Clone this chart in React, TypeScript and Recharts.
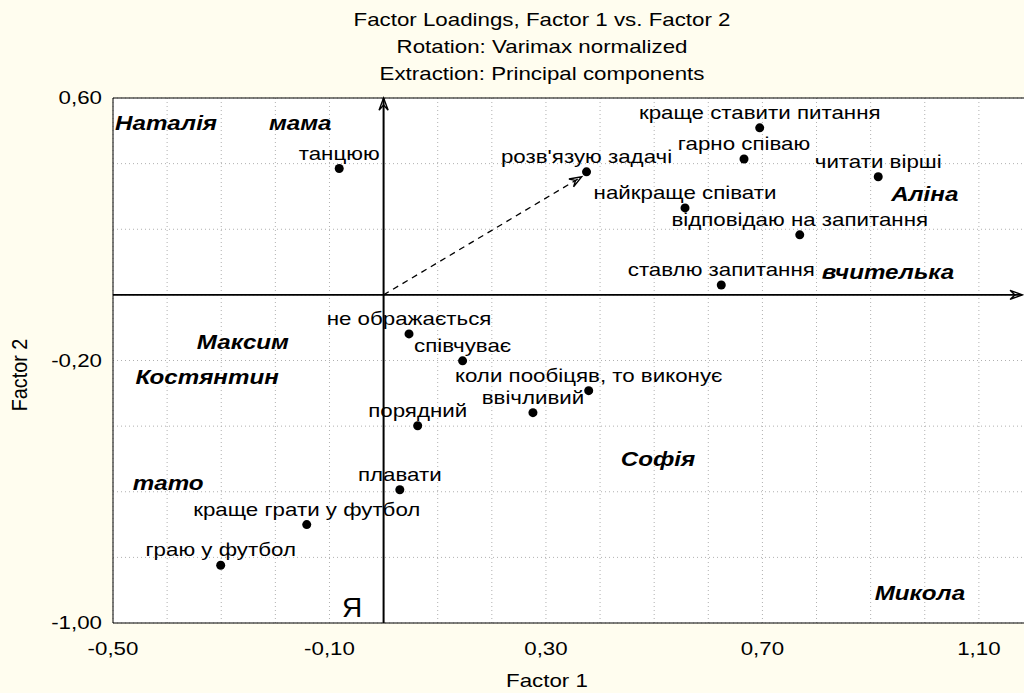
import { ScatterChart, Scatter, XAxis, YAxis, CartesianGrid, ReferenceLine } from 'recharts'

const pointLabels = [
  'танцюю',
  "розв'язую задачі",
  'краще ставити питання',
  'гарно співаю',
  'читати вірші',
  'найкраще співати',
  'відповідаю на запитання',
  'ставлю запитання',
  'не ображається',
  'співчуває',
  'коли пообіцяв, то виконує',
  'ввічливий',
  'порядний',
  'плавати',
  'краще грати у футбол',
  'граю у футбол',
]
const factor1 = [-0.082, 0.375, 0.695, 0.666, 0.914, 0.557, 0.769, 0.624, 0.047, 0.146, 0.379, 0.276, 0.063, 0.03, -0.142, -0.301]
const factor2 = [0.385, 0.375, 0.509, 0.414, 0.36, 0.265, 0.183, 0.03, -0.119, -0.201, -0.292, -0.359, -0.399, -0.594, -0.7, -0.824]

const nameLabels = ['Наталія', 'мама', 'Аліна', 'вчителька', 'Максим', 'Костянтин', 'тато', 'Софія', 'Микола']
const nameX = [-0.402, -0.154, 1.0, 0.932, -0.26, -0.326, -0.398, 0.507, 0.991]
const nameY = [0.523, 0.523, 0.308, 0.07, -0.144, -0.25, -0.573, -0.5, -0.909]

const selfLabel = ['Я']
const selfX = [-0.058]
const selfY = [-0.951]

// direction vector drawn from the origin (dashed arrow)
const vectorX = [0, 0.366]
const vectorY = [0, 0.36]

const xTickLabels = [-0.5, -0.1, 0.3, 0.7, 1.1]
const yTickLabels = [0.6, -0.2, -1.0]
const titleLines = ['Factor Loadings, Factor 1 vs. Factor 2', 'Rotation: Varimax normalized', 'Extraction: Principal components']

const X_DOMAIN: [number, number] = [-0.5, 1.2]
const Y_DOMAIN: [number, number] = [-1, 0.6]
const X_AXIS_END = 1.18

const FONT = '"Liberation Sans", Arial, sans-serif'
const STRETCH = 1.24
const BG = '#FFFDEF'

const steps = (from: number, to: number, step: number) => {
  const n = Math.round((to - from) / step)
  const out: number[] = []
  for (let i = 0; i <= n; i++) out.push(+(from + i * step).toFixed(4))
  return out
}

const xGrid = steps(X_DOMAIN[0], X_DOMAIN[1], 0.1)
const xMinor = steps(X_DOMAIN[0], X_DOMAIN[1], 0.025)
const yGrid = steps(Y_DOMAIN[0], Y_DOMAIN[1], 0.2)
const yMinor = steps(Y_DOMAIN[0], Y_DOMAIN[1], 0.1)

const points = pointLabels.map((label, i) => ({ label, x: factor1[i], y: factor2[i] }))
const names = nameLabels.map((label, i) => ({ label, x: nameX[i], y: nameY[i] }))
const self = selfLabel.map((label, i) => ({ label, x: selfX[i], y: selfY[i] }))

const fmt = (v: number) => v.toFixed(2).replace('.', ',')
const hasLabel = (list: number[], v: number) => list.some(t => Math.abs(t - v) < 1e-6)

const XTick = (p: any) => {
  const v = p.payload.value
  if (!hasLabel(xTickLabels, v)) return <g />
  return (
    <text transform={`translate(${p.x},${p.y}) scale(${STRETCH},1)`} textAnchor="middle" dy="0.71em" fontSize={18} fontFamily={FONT} fill="#000">
      {fmt(v)}
    </text>
  )
}

const YTick = (p: any) => {
  const v = p.payload.value
  if (!hasLabel(yTickLabels, v)) return <g />
  return (
    <text transform={`translate(${p.x},${p.y}) scale(${STRETCH},1)`} textAnchor="end" dy="0.36em" fontSize={18} fontFamily={FONT} fill="#000">
      {fmt(v)}
    </text>
  )
}

const PointShape = (p: any) => (
  <g>
    <circle cx={p.cx} cy={p.cy} r={4.5} fill="#000" />
    <text transform={`translate(${p.cx},${p.cy - 9}) scale(${STRETCH},1)`} textAnchor="middle" fontSize={18} fontFamily={FONT} fill="#000">
      {p.payload.label}
    </text>
  </g>
)

const NameShape = (p: any) => (
  <text transform={`translate(${p.cx},${p.cy + 7}) scale(${STRETCH},1)`} textAnchor="middle" fontSize={19.5} fontWeight="bold" fontStyle="italic" fontFamily={FONT} fill="#000">
    {p.payload.label}
  </text>
)

const SelfShape = (p: any) => (
  <text x={p.cx} y={p.cy + 10} textAnchor="middle" fontSize={28} fontFamily={FONT} fill="#000">
    {p.payload.label}
  </text>
)

const arrow = (width: number, dash?: string) => (p: any) => {
  const { x1, y1, x2, y2 } = p
  const a = Math.atan2(y2 - y1, x2 - x1)
  const len = 13
  const spread = 0.36
  const lx = x2 - len * Math.cos(a - spread)
  const ly = y2 - len * Math.sin(a - spread)
  const rx = x2 - len * Math.cos(a + spread)
  const ry = y2 - len * Math.sin(a + spread)
  const nx = x2 - len * 0.55 * Math.cos(a)
  const ny = y2 - len * 0.55 * Math.sin(a)
  return (
    <g>
      <line x1={x1} y1={y1} x2={x2} y2={y2} stroke="#000" strokeWidth={width} strokeDasharray={dash} />
      <path d={`M${lx},${ly} L${x2},${y2} L${rx},${ry} M${lx},${ly} L${nx},${ny} L${rx},${ry}`} fill="none" stroke="#000" strokeWidth={1.4} />
    </g>
  )
}

export default function App() {
  return (
    <div style={{ position: 'absolute', left: 0, top: 0, width: 1024, height: 693, overflow: 'hidden', background: BG }}>
      <ScatterChart width={1040} height={693} margin={{ top: 98, right: 7, bottom: 0, left: 0 }}>
        <CartesianGrid fill="#fff" fillOpacity={1} stroke="#b0b0b0" strokeDasharray="1 3" />
        <XAxis
          dataKey="x" type="number" domain={X_DOMAIN} ticks={xGrid} interval={0} allowDataOverflow
          height={70} tickLine={false} tickSize={0} tickMargin={19} axisLine={{ stroke: '#000' }} tick={XTick}
        />
        <XAxis xAxisId="bt" type="number" domain={X_DOMAIN} ticks={xGrid} interval={0} allowDataOverflow mirror height={1}
          tick={false} axisLine={false} tickLine={{ stroke: '#000' }} tickSize={6} />
        <XAxis xAxisId="bt2" type="number" domain={X_DOMAIN} ticks={xMinor} interval={0} allowDataOverflow mirror height={1}
          tick={false} axisLine={false} tickLine={{ stroke: '#000' }} tickSize={3} />
        <XAxis xAxisId="tp" orientation="top" type="number" domain={X_DOMAIN} ticks={xGrid} interval={0} allowDataOverflow mirror height={1}
          tick={false} axisLine={{ stroke: '#000' }} tickLine={{ stroke: '#000' }} tickSize={6} />
        <XAxis xAxisId="tp2" orientation="top" type="number" domain={X_DOMAIN} ticks={xMinor} interval={0} allowDataOverflow mirror height={1}
          tick={false} axisLine={false} tickLine={{ stroke: '#000' }} tickSize={3} />
        <YAxis
          dataKey="y" type="number" domain={Y_DOMAIN} ticks={yGrid} interval={0} allowDataOverflow
          width={113} tickLine={false} tickSize={0} tickMargin={11} axisLine={{ stroke: '#000' }} tick={YTick}
        />
        <YAxis yAxisId="lt" type="number" domain={Y_DOMAIN} ticks={yMinor} interval={0} allowDataOverflow mirror width={1}
          tick={false} axisLine={false} tickLine={{ stroke: '#000' }} tickSize={6} />
        <ReferenceLine segment={[{ x: 0, y: Y_DOMAIN[0] }, { x: 0, y: Y_DOMAIN[1] }]} shape={arrow(2)} />
        <ReferenceLine segment={[{ x: X_DOMAIN[0], y: 0 }, { x: X_AXIS_END, y: 0 }]} shape={arrow(1.8)} />
        <ReferenceLine segment={[{ x: vectorX[0], y: vectorY[0] }, { x: vectorX[1], y: vectorY[1] }]} shape={arrow(1.3, '6 5')} />
        <Scatter data={names} shape={NameShape} isAnimationActive={false} />
        <Scatter data={self} shape={SelfShape} isAnimationActive={false} />
        <Scatter data={points} shape={PointShape} isAnimationActive={false} />
      </ScatterChart>
      <svg width={1024} height={693} style={{ position: 'absolute', left: 0, top: 0, pointerEvents: 'none' }}>
        {titleLines.map((t, i) => (
          <text key={t} transform={`translate(542,${26 + i * 27}) scale(${STRETCH},1)`} textAnchor="middle" fontSize={18} fontFamily={FONT} fill="#000">
            {t}
          </text>
        ))}
        <text transform={`translate(547,687) scale(${STRETCH},1)`} textAnchor="middle" fontSize={18} fontFamily={FONT} fill="#000">
          Factor 1
        </text>
        <text transform="translate(27,375) rotate(-90) scale(1.1,1.2)" textAnchor="middle" fontSize={18} fontFamily={FONT} fill="#000">
          Factor 2
        </text>
      </svg>
    </div>
  )
}
